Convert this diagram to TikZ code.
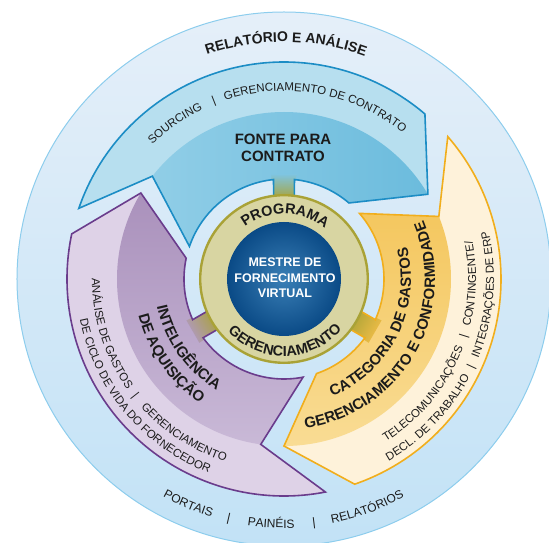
\documentclass[tikz,border=0pt]{standalone}
\usepackage{fontspec}
\setmainfont{Liberation Sans}
\usetikzlibrary{decorations.text}

\definecolor{ink}{HTML}{1B1B1B}
\definecolor{bgtop}{HTML}{E5EFF9}
\definecolor{bgbot}{HTML}{C2E2F6}
\definecolor{bgline}{HTML}{8DCDED}
\definecolor{bluelight}{HTML}{B7DFEF}
\definecolor{bluedarkA}{HTML}{95D0E8}
\definecolor{bluedarkB}{HTML}{68BADC}
\definecolor{blueline}{HTML}{1C8DC5}
\definecolor{purplelight}{HTML}{DED2E7}
\definecolor{purpledarkA}{HTML}{A084B3}
\definecolor{purpledarkB}{HTML}{C9B9D7}
\definecolor{purpleline}{HTML}{6A3C8C}
\definecolor{goldlight}{HTML}{FEF2DA}
\definecolor{golddarkA}{HTML}{F2BE48}
\definecolor{golddarkB}{HTML}{F9DC94}
\definecolor{goldline}{HTML}{F1AE1C}
\definecolor{ringfill}{HTML}{D8D5A2}
\definecolor{ringline}{HTML}{A9A236}
\definecolor{diskin}{HTML}{3A7FB6}
\definecolor{diskout}{HTML}{0A4A86}

\newcommand\rOut{217pt}
\newcommand\rMid{167pt}
\newcommand\rIn{100pt}
\newcommand\rNeck{80pt}
\newcommand\lblfont{\bfseries\fontsize{15}{18}\selectfont}
\newcommand\subfont{\fontsize{11.5}{14}\selectfont}

\newcommand\flowpath[3]{(#1:\rOut) arc[start angle=#1, end angle=#2, radius=\rOut] -- ({#2-19}:\rMid) -- (#2:\rIn) arc[start angle=#2, end angle={#3-6}, radius=\rIn] -- ({#3-7.5}:\rNeck) -- ({#3+7.5}:\rNeck) -- ({#3+6}:\rIn) arc[start angle={#3+6}, end angle=#1, radius=\rIn] -- ({#1-19}:\rMid) -- cycle}

\newcommand\flowarrow[7]{%
  \fill[#4] \flowpath{#1}{#2}{#3};
  \begin{scope}
    \clip \flowpath{#1}{#2}{#3};
    \shade[#5] (0,0) circle[radius=\rMid];
    \pgfmathsetmacro\neckturn{#3-90}
    \shade[top color=#6, bottom color=ringline, shading angle=\neckturn] ({#3-8}:\rNeck) -- ({#3-7}:106pt) -- ({#3+7}:106pt) -- ({#3+8}:\rNeck) -- cycle;
  \end{scope}
  \draw[band, draw=#7] \flowpath{#1}{#2}{#3};}

\newcommand\arctext[5]{\path[decorate, decoration={text along path, text align=center, text color=ink, text format delimiters={[}{]}, text={[#1]#5}}] ({#2+75*#4}:#3) arc[start angle={#2+75*#4}, end angle={#2-75*#4}, radius=#3];}

\begin{document}
\begin{tikzpicture}[x=1pt, y=1pt,
    band/.style={line width=1.6pt, line join=miter},
    lbl/.style={text=ink, align=center}]
    \useasboundingbox (-284,-264) rectangle (265,279);
    \shadedraw[top color=bgtop, bottom color=bgbot, draw=bgline, line width=1pt] (0,0) circle[radius=267pt];

    \flowarrow{161}{49.5}{90}{bluelight}{left color=bluedarkA, right color=bluedarkB}{bluedarkA!50!bluedarkB}{blueline}
    \flowarrow{41}{-71}{-30}{goldlight}{top color=golddarkA, bottom color=golddarkB}{golddarkA}{goldline}
    \flowarrow{-79}{-192}{-150}{purplelight}{top color=purpledarkA, bottom color=purpledarkB}{purpledarkA!60!purpledarkB}{purpleline}

    \draw[fill=ringfill, draw=ringline, line width=2.4pt] (0,0) circle[radius=83.8pt];
    \shade[inner color=diskin, outer color=diskout] (0,0) circle[radius=57pt];

    \node[lbl, font=\bfseries\fontsize{15}{17}\selectfont] (fonte) at (-1,131.5) {FONTE PARA\\CONTRATO};
    \node[lbl, text=white, font=\bfseries\fontsize{12.5}{15.5}\selectfont] (mestre) at (1,1) {MESTRE DE\\FORNECIMENTO\\VIRTUAL};

    \arctext{\bfseries\fontsize{14}{16}\selectfont}{89.5}{237pt}{1}{RELATÓRIO E ANÁLISE}
    \arctext{\subfont}{125}{188pt}{1}{SOURCING}
    \arctext{\subfont}{111.5}{188pt}{1}{|}
    \arctext{\subfont}{79.5}{188pt}{1}{GERENCIAMENTO DE CONTRATO}

    \arctext{\bfseries\fontsize{14.5}{16}\selectfont}{89}{65pt}{1}{PROGRAMA}
    \arctext{\bfseries\fontsize{14.5}{16}\selectfont}{271}{77pt}{-1}{GERENCIAMENTO}

    \arctext{\lblfont}{215.5}{130pt}{-1}{INTELIGÊNCIA}
    \arctext{\lblfont}{215}{150pt}{-1}{DE AQUISIÇÃO}
    \arctext{\subfont}{197.5}{192pt}{-1}{ANÁLISE DE GASTOS}
    \arctext{\subfont}{218}{192pt}{-1}{|}
    \arctext{\subfont}{237}{192pt}{-1}{GERENCIAMENTO}
    \arctext{\subfont}{220}{208pt}{-1}{DE CICLO DE VIDA DO FORNECEDOR}

    \arctext{\lblfont}{-26.5}{127pt}{-1}{CATEGORIA DE GASTOS}
    \arctext{\lblfont}{-29.5}{151pt}{-1}{GERENCIAMENTO E CONFORMIDADE}
    \arctext{\subfont}{-39.5}{192pt}{-1}{TELECOMUNICAÇÕES}
    \arctext{\subfont}{-17.5}{192pt}{-1}{|}
    \arctext{\subfont}{-1.5}{192pt}{-1}{CONTINGENTE/}
    \arctext{\subfont}{-44}{210pt}{-1}{DECL. DE TRABALHO}
    \arctext{\subfont}{-25}{210pt}{-1}{|}
    \arctext{\subfont}{-4.5}{210pt}{-1}{INTEGRAÇÕES DE ERP}

    \arctext{\fontsize{12}{14}\selectfont}{247}{249pt}{-1}{PORTAIS}
    \arctext{\fontsize{12}{14}\selectfont}{257}{249pt}{-1}{|}
    \arctext{\fontsize{12}{14}\selectfont}{267}{249pt}{-1}{PAINÉIS}
    \arctext{\fontsize{12}{14}\selectfont}{277}{249pt}{-1}{|}
    \arctext{\fontsize{12}{14}\selectfont}{290}{249pt}{-1}{RELATÓRIOS}
\end{tikzpicture}
\end{document}
